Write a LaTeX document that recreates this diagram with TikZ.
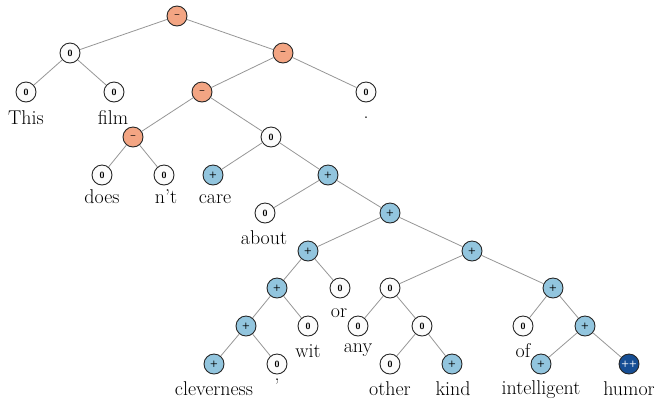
\documentclass[tikz,border=0pt]{standalone}
\definecolor{negc}{RGB}{243,165,131}
\definecolor{posc}{RGB}{146,197,222}
\definecolor{vposc}{RGB}{22,78,148}
\definecolor{neuc}{RGB}{252,252,252}
\definecolor{edgec}{RGB}{150,150,150}
\tikzset{
  sn/.style={circle, draw=black!85, line width=0.9bp, minimum size=20bp, inner sep=0pt,
             font=\fontsize{9}{10}\selectfont\sffamily\bfseries},
  sneu/.style={sn, fill=neuc},
  sneg/.style={sn, fill=negc},
  spos/.style={sn, fill=posc},
  svpos/.style={sn, fill=vposc, text=white},
  word/.style={anchor=base, inner sep=0pt, font=\fontsize{20}{24}\selectfont},
  edgeline/.style={draw=edgec, line width=0.8bp}
}
\begin{document}
\begin{tikzpicture}[x=1bp,y=-1bp]
\useasboundingbox (0,0) rectangle (660,399);
% internal / leaf nodes
\node[sneg] (root) at (177,16) {--};
\node[sneu] (A) at (70,53) {0};
\node[sneg] (B) at (283,53) {--};
\node[sneu] (nThis) at (26,92) {0};
\node[sneu] (nfilm) at (114,92) {0};
\node[sneg] (C) at (202,92) {--};
\node[sneu] (ndot) at (366,92) {0};
\node[sneg] (D) at (133,137) {--};
\node[sneu] (E) at (271,137) {0};
\node[sneu] (ndoes) at (102,175) {0};
\node[sneu] (nnt) at (164,175) {0};
\node[spos] (ncare) at (213,175) {+};
\node[spos] (F) at (328,175) {+};
\node[sneu] (nabout) at (265,213) {0};
\node[spos] (G) at (390,213) {+};
\node[spos] (H) at (308,251) {+};
\node[spos] (I) at (472,251) {+};
\node[spos] (J) at (277,288) {+};
\node[sneu] (nor) at (340,288) {0};
\node[sneu] (L) at (390,288) {0};
\node[spos] (M) at (553,288) {+};
\node[spos] (K) at (246,326) {+};
\node[sneu] (nwit) at (308,326) {0};
\node[sneu] (nany) at (358,326) {0};
\node[sneu] (N) at (422,326) {0};
\node[sneu] (nof) at (523,326) {0};
\node[spos] (P) at (585,326) {+};
\node[spos] (nclev) at (214,364) {+};
\node[sneu] (ncomma) at (277,364) {0};
\node[sneu] (nother) at (390,364) {0};
\node[spos] (nkind) at (452,364) {+};
\node[spos] (nintel) at (541,364) {+};
\node[svpos] (nhumor) at (629,364) {++};
% edges
\foreach \p/\c in {root/A, root/B, A/nThis, A/nfilm, B/C, B/ndot, C/D, C/E,
  D/ndoes, D/nnt, E/ncare, E/F, F/nabout, F/G, G/H, G/I, H/J, H/nor,
  J/K, J/nwit, K/nclev, K/ncomma, I/L, I/M, L/nany, L/N, N/nother, N/nkind,
  M/nof, M/P, P/nintel, P/nhumor}
  \path[edgeline] (\p) -- (\c);
% words
\node[word] (wThis) at (26,124) {This};
\node[word] (wfilm) at (113,124) {film};
\node[word] (wdot) at (366,118) {.};
\node[word] (wdoes) at (102,203) {does};
\node[word] (wnt) at (166,203) {n'{}t};
\node[word] (wcare) at (215,203) {care};
\node[word] (wabout) at (264,244) {about};
\node[word] (wor) at (339,317) {or};
\node[word] (wwit) at (308,357) {wit};
\node[word] (wany) at (358,352) {any};
\node[word] (wof) at (523,357) {of};
\node[word] (wclev) at (214,395) {cleverness};
\node[word] (wcomma) at (277,380) {,};
\node[word] (wother) at (390,395) {other};
\node[word] (wkind) at (453,395) {kind};
\node[word] (wintel) at (541,394) {intelligent};
\node[word] (whumor) at (629,395) {humor};
\end{tikzpicture}
\end{document}
